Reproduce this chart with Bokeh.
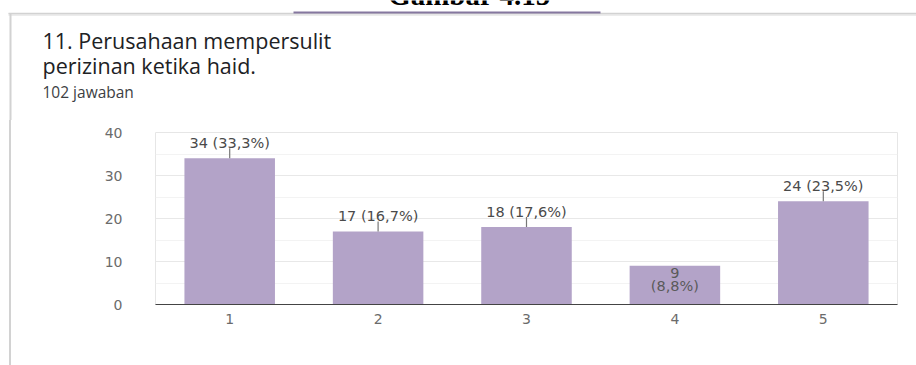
from bokeh.plotting import figure
from bokeh.layouts import column, row
from bokeh.models import Range1d, FixedTicker, Div
from bokeh.core.properties import value
from bokeh.embed import file_html
from bokeh.resources import INLINE
import math

# ---- data ----
categories = [1, 2, 3, 4, 5]
counts = [34, 17, 18, 9, 24]
bar_labels = ["34 (33,3%)", "17 (16,7%)", "18 (17,6%)", "9\n(8,8%)", "24 (23,5%)"]
label_inside = [False, False, False, True, False]
y_ticks = [0, 10, 20, 30, 40]
x_tick_labels = ["1", "2", "3", "4", "5"]
caption = "Gambar 4.15"
title_lines = ["11. Perusahaan mempersulit", "perizinan ketika haid."]
subtitle = "102 jawaban"

BAR = "#b3a3c8"
CARD = "#d2d2d2"
FONT = "DejaVu Sans"

# ---- header (pixel coordinates, y downward) ----
hdr = figure(width=916, height=120, x_range=Range1d(0, 916), y_range=Range1d(120, 0),
             output_backend="svg", toolbar_location=None, min_border=0)
hdr.axis.visible = False
hdr.grid.visible = False
hdr.outline_line_color = None
hdr.text(x=[469], y=[-6], text=[caption], text_font=value("Liberation Serif"),
         text_font_style="bold", text_font_size="29px", text_align="center",
         text_baseline="middle", text_color="#000000")
hdr.segment(x0=[8], y0=[14], x1=[916], y1=[14], line_color="#ececec", line_width=3)
hdr.segment(x0=[8], y0=[13], x1=[916], y1=[13], line_color=CARD, line_width=1.5)
hdr.segment(x0=[10], y0=[13], x1=[10], y1=[120], line_color=CARD, line_width=2)
hdr.segment(x0=[293], y0=[12], x1=[600], y1=[12], line_color="#85779f", line_width=2)
hdr.text(x=[42, 42], y=[40, 65], text=title_lines, text_font=value("Open Sans"),
         text_font_size="21.5px", text_color="#202124", text_baseline="middle")
hdr.text(x=[42], y=[91], text=[subtitle], text_font=value("Open Sans"),
         text_font_size="15.5px", text_color="#3c4043", text_baseline="middle")

# ---- left card edge ----
strip = Div(text="", width=11, height=245, margin=0,
            styles={"border-right": "2px solid #d2d2d2", "box-sizing": "border-box"})

# ---- chart ----
p = figure(width=905, height=245, x_range=Range1d(0.5, 5.5), y_range=Range1d(0, 40),
           output_backend="svg", toolbar_location=None,
           min_border_left=144, min_border_right=19, min_border_top=12, min_border_bottom=61)
p.outline_line_color = "#e6e6e6"
p.xgrid.visible = False
p.ygrid.ticker = FixedTicker(ticks=y_ticks, minor_ticks=[5, 15, 25, 35])
p.ygrid.grid_line_color = "#e8e8e8"
p.ygrid.minor_grid_line_color = "#f3f3f3"

p.vbar(x=categories, top=counts, width=0.61, color=BAR, line_color=None)

out_x = [c for c, f in zip(categories, label_inside) if not f]
out_y = [v for v, f in zip(counts, label_inside) if not f]
out_t = [t for t, f in zip(bar_labels, label_inside) if not f]

p.ray(x=out_x, y=out_y, length=10, length_units="screen", angle=math.pi / 2,
      line_color="#777777", line_width=1.2)
p.text(x=out_x, y=out_y, text=out_t, y_offset=-15, text_align="center",
       text_baseline="middle", text_font=value(FONT), text_font_size="14.5px",
       text_color="#4a4a4a")

for c, v, t, f in zip(categories, counts, bar_labels, label_inside):
    if f:
        parts = t.split("\n")
        p.text(x=[c] * len(parts), y=[v] * len(parts), text=parts,
               y_offset=[7 + 13 * i for i in range(len(parts))], text_align="center",
               text_baseline="middle", text_font=value(FONT), text_font_size="14.5px",
               text_color="#5a5a5a")

p.xaxis.ticker = FixedTicker(ticks=categories)
p.xaxis.major_label_overrides = {c: l for c, l in zip(categories, x_tick_labels)}
p.xaxis.axis_line_color = "#444444"
p.xaxis.axis_line_width = 1.2
p.xaxis.major_tick_line_color = None
p.xaxis.minor_tick_line_color = None
p.xaxis.major_label_standoff = 3
p.yaxis.ticker = FixedTicker(ticks=y_ticks)
p.yaxis.axis_line_color = None
p.yaxis.major_tick_line_color = None
p.yaxis.minor_tick_line_color = None
p.yaxis.major_label_standoff = 27
for ax in (p.xaxis, p.yaxis):
    ax.major_label_text_font = FONT
    ax.major_label_text_font_size = "14px"
    ax.major_label_text_color = "#6b6b6b"

layout = column(hdr, row(strip, p, spacing=0), spacing=0)
open("out.html", "w").write(file_html(layout, INLINE))
